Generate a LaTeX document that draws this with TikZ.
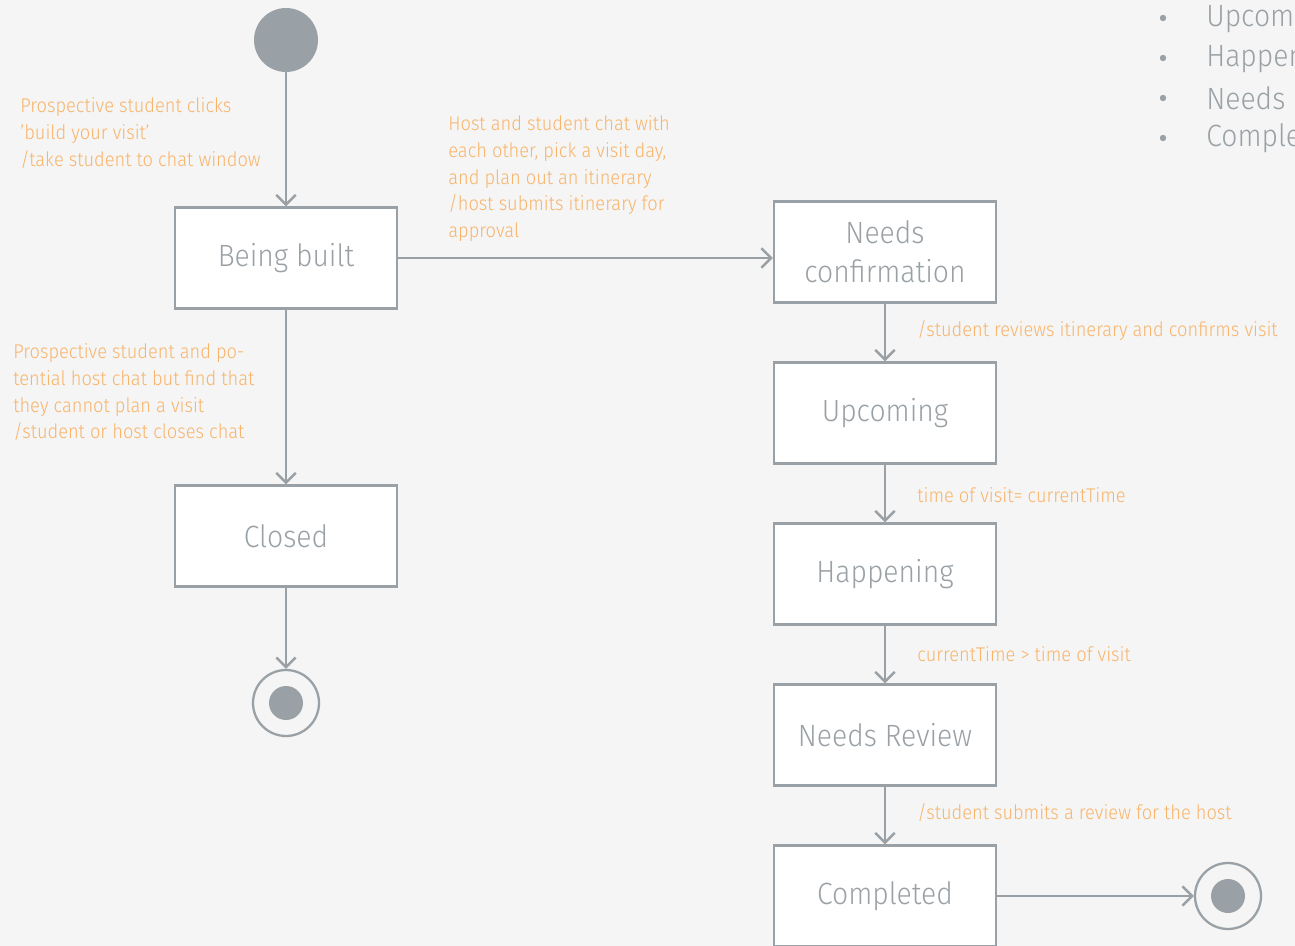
\documentclass[tikz,border=0pt]{standalone}
\usepackage{fontspec}
\setmainfont{Fira Sans Light}[FakeStretch=0.92]
\usetikzlibrary{arrows.meta}
\definecolor{umlgray}{RGB}{154,161,166}
\definecolor{umlorange}{RGB}{249,180,107}
\definecolor{umlbg}{RGB}{244,245,244}
\begin{document}
\begin{tikzpicture}[x=0.02cm, y=-0.02cm,
    state/.style={draw=umlgray, line width=1.4pt, fill=white, minimum width=4.44cm, minimum height=2.02cm,
      text=umlgray, align=center, font=\fontsize{17.5}{22}\selectfont},
    trans/.style={draw=umlgray, line width=1.4pt, -{Straight Barb[length=5.5pt, width=11pt]}},
    guard/.style={text=umlorange, align=left, inner sep=0pt, font=\fontsize{11.3}{15.3}\selectfont},
    final/.style={circle, draw=umlgray, line width=1.3pt, minimum size=1.32cm,
      path picture={\fill[umlgray] (path picture bounding box.center) circle (0.34cm);}}]
  \useasboundingbox (0,0) rectangle (1295,946);
  \clip (0,0) rectangle (1295,946);
  \fill[umlbg] (0,0) rectangle (1295,946);

  \node[circle, fill=umlgray, minimum size=1.28cm] (start) at (286,40) {};
  \node[state] (built) at (286,258) {Being built};
  \node[state] (closed) at (286,536) {Closed};
  \node[final] (endleft) at (286,703) {};
  \node[state] (confirm) at (885,252) {Needs\\confirmation};
  \node[state] (upcoming) at (885,413) {Upcoming};
  \node[state] (happening) at (885,574) {Happening};
  \node[state] (review) at (885,735) {Needs Review};
  \node[state] (completed) at (885,896) {Completed};
  \node[final] (endright) at (1228,896) {};

  \draw[trans] (start) -- (built);
  \draw[trans] (built.east) -- (built.east -| confirm.west);
  \draw[trans] (built) -- (closed);
  \draw[trans] (closed) -- (endleft);
  \draw[trans] (confirm) -- (upcoming);
  \draw[trans] (upcoming) -- (happening);
  \draw[trans] (happening) -- (review);
  \draw[trans] (review) -- (completed);
  \draw[trans] (completed) -- (endright);

  \node[guard, anchor=north west] (gbuild) at (20,97) {Prospective student clicks\\'build your visit'\\/take student to chat window};
  \node[guard, anchor=north west] (gplan) at (448,115) {Host and student chat with\\each other, pick a visit day,\\and plan out an itinerary\\/host submits itinerary for\\approval};
  \node[guard, anchor=north west] (gclose) at (13,343) {Prospective student and po-\\tential host chat but find that\\they cannot plan a visit\\/student or host closes chat};
  \node[guard, anchor=west] (gconfirm) at (917,331) {/student reviews itinerary and confirms visit};
  \node[guard, anchor=west] (gstart) at (917,495) {time of visit= currentTime};
  \node[guard, anchor=west] (gend) at (917,654) {currentTime > time of visit};
  \node[guard, anchor=west] (greview) at (917,813) {/student submits a review for the host};

  \foreach \item [count=\i] in {Upcoming, Happening, Needs Review, Completed} {
    \fill[umlgray] (1163,{18+40*(\i-1)}) circle (3.2);
    \node[anchor=west, inner sep=0pt, text=umlgray, font=\fontsize{17.5}{22}\selectfont] (list\i) at (1206,{18+40*(\i-1)}) {\item};
  }
\end{tikzpicture}
\end{document}
